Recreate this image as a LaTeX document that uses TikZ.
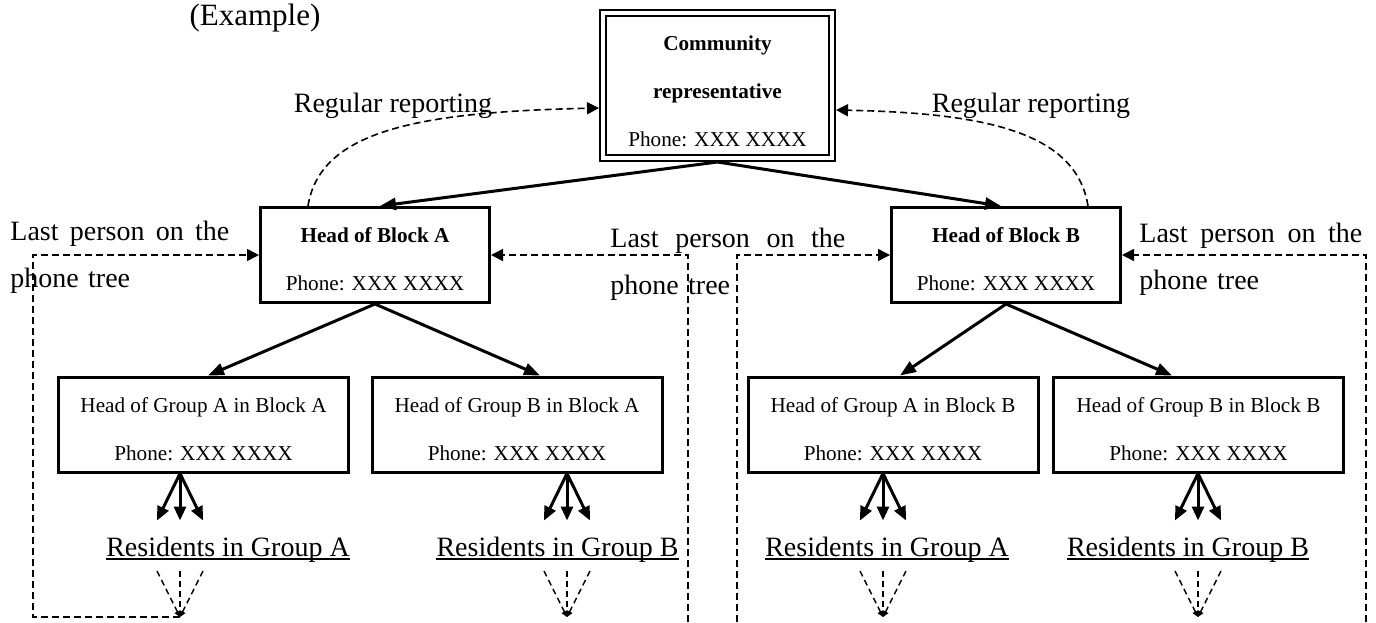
\documentclass[tikz,border=0pt]{standalone}
\usepackage{fontspec}
\setmainfont{Liberation Serif}
\usepackage{tikz}
\usetikzlibrary{arrows.meta,calc}
\def\phonenr{Phone: XXX XXXX}
\def\lift#1{\rule{0pt}{#1}}

\tikzset{
	headbox/.style={draw, line width=1.5pt, inner sep=0pt, minimum width=114.5pt, minimum height=47.5pt, align=center, font=\fontsize{10.6}{24}\selectfont},
	groupbox/.style={draw, line width=1.5pt, inner sep=0pt, minimum width=145pt, minimum height=47.5pt, align=center, font=\fontsize{10.6}{24}\selectfont},
	repbox/.style={draw, double, line width=1pt, double distance=2pt, inner sep=0pt, outer sep=2pt, minimum width=114.5pt, minimum height=72.5pt, align=center, font=\fontsize{10.6}{24}\selectfont},
	resident/.style={anchor=base, inner sep=0pt, font=\fontsize{14}{17}\selectfont},
	note/.style={anchor=north west, inner sep=0pt, align=left, font=\fontsize{14}{23.5}\selectfont},
	calls/.style={line width=1.5pt, -{Triangle[length=8pt,width=6pt]}},
	fan/.style={line width=1.5pt, -{Triangle[length=7pt,width=6pt]}},
	fanlast/.style={line width=0.7pt, dash pattern=on 3pt off 2pt, -{Triangle[length=3pt,width=3pt]}},
	reply/.style={line width=0.8pt, dash pattern=on 3.5pt off 2pt, -{Triangle[length=6pt,width=6pt]}}
}

\begin{document}
\begin{tikzpicture}[x=0.5pt,y=-0.5pt]
	%%%%% START %%%%%
	\useasboundingbox (0,0) rectangle (1376,622);
	
	\node[font=\fontsize{15.5}{18}\selectfont] (title) at (255,18) {(Example)};
	
	\node[repbox] (comm) at (717.5,85.5) {\lift{13.3pt}\textbf{Community}\\\textbf{representative}\\\phonenr};
	
	\node[headbox] (hA) at (375,255) {\lift{11.3pt}\textbf{Head of Block A}\\\phonenr};
	\node[headbox] (hB) at (1006,255) {\lift{11.3pt}\textbf{Head of Block B}\\\phonenr};
	
	\node[groupbox] (gAA) at (203.5,424.5) {\lift{12.3pt}Head of Group A in Block A\\\phonenr};
	\node[groupbox] (gBA) at (517,424.5) {\lift{12.3pt}Head of Group B in Block A\\\phonenr};
	\node[groupbox] (gAB) at (893,424.5) {\lift{12.3pt}Head of Group A in Block B\\\phonenr};
	\node[groupbox] (gBB) at (1198.5,424.5) {\lift{12.3pt}Head of Group B in Block B\\\phonenr};
	
	\node[resident] (rAA) at (228,556) {Residents in Group A};
	\node[resident] (rBA) at (557.5,556) {Residents in Group B};
	\node[resident] (rAB) at (887,556) {Residents in Group A};
	\node[resident] (rBB) at (1188,556) {Residents in Group B};
	
	\node[resident] (repA) at (393,112) {Regular reporting};
	\node[resident] (repB) at (1031,112) {Regular reporting};
	
	\node[note, text width=109.5pt] (lastA) at (10,221) {Last \hfill person \hfill on \hfill the\\phone tree};
	\node[note, text width=117.5pt] (lastM) at (610,228) {Last \hfill person \hfill on \hfill the\\phone tree};
	\node[note, text width=111.5pt] (lastB) at (1139,223) {Last \hfill person \hfill on \hfill the\\phone tree};
	
	% calling down the tree
	\draw[calls] (comm.south) -- (hA.north -| 380,0);
	\draw[calls] (comm.south) -- (hB.north -| 1001,0);
	\draw[calls] (hA.south) -- (gAA.north -| 208,0);
	\draw[calls] (hA.south) -- (gBA.north -| 540,0);
	\draw[calls] (hB.south) -- (gAB.north -| 900,0);
	\draw[calls] (hB.south) -- (gBB.north -| 1172,0);
	
	\foreach \g/\r/\x in {gAA/rAA/180, gBA/rBA/567, gAB/rAB/883, gBB/rBB/1198} {
		\foreach \d in {-23,0,23}
			\draw[fan] (\g.south -| \x,0) -- ++(\d,47);
		% underline of the residents
		\draw[line width=0.6pt] ($(\r.base west)+(0,3)$) -- ($(\r.base east)+(0,3)$);
		\coordinate (end\r) at (\x,617);
		\foreach \d in {-23,0,23}
			\draw[fanlast] ($(end\r)+(\d,-46)$) -- (end\r);
	}
	
	% last person calls back
	\coordinate (cornerA) at (33,255);
	\coordinate (tailA) at (688,622);
	\coordinate (tailB) at (737,622);
	\coordinate (tailC) at (1366,622);
	\draw[reply] (endrAA) -| (cornerA) -- (hA.west);
	\draw[reply] (tailA) |- (hA.east);
	\draw[reply] (tailB) |- (hB.west);
	\draw[reply] (tailC) |- (hB.east);
	
	% reporting up
	\draw[reply] (hA.north -| 308,0) .. controls (320,130) and (420,112) .. (comm.west |- 0,108);
	\draw[reply] (hB.north -| 1088,0) .. controls (1076,130) and (980,113) .. (comm.east |- 0,110);
	
	%%%%% END %%%%%
\end{tikzpicture}
\end{document}
